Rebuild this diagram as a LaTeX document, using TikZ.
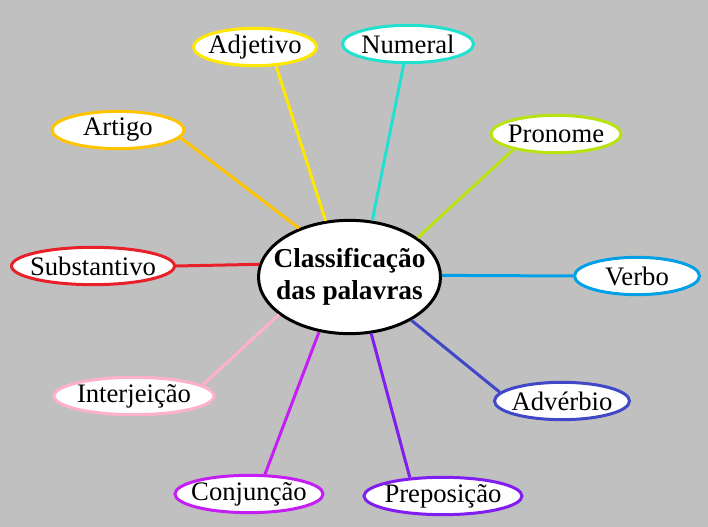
\documentclass[tikz,border=0pt]{standalone}
\usepackage{fontspec}
\setmainfont{Liberation Serif}
\usetikzlibrary{shapes.geometric}
\definecolor{bg}{RGB}{192,192,192}
\definecolor{cadj}{RGB}{255,232,0}
\definecolor{cnum}{RGB}{34,224,208}
\definecolor{cpro}{RGB}{184,226,16}
\definecolor{cart}{RGB}{255,196,0}
\definecolor{csub}{RGB}{232,32,42}
\definecolor{cver}{RGB}{0,160,230}
\definecolor{cint}{RGB}{255,176,204}
\definecolor{cadv}{RGB}{64,72,200}
\definecolor{ccon}{RGB}{196,30,245}
\definecolor{cpre}{RGB}{128,30,240}
\newcommand{\nw}[1]{\makebox[0pt]{#1}}
\begin{document}
\begin{tikzpicture}[x=0.75pt,y=-0.75pt,
  leaf/.style={ellipse,draw=#1,fill=white,line width=2.25pt,inner sep=0pt,
    minimum height=28pt,font=\fontsize{20}{24}\selectfont},
  hub/.style={ellipse,draw=black,fill=white,line width=2.25pt,inner sep=0pt,
    minimum width=136.5pt,minimum height=85pt,
    font=\fontsize{20.5}{24}\selectfont\bfseries},
  link/.style={draw=#1,line width=2.25pt}]
\fill[bg] (0,0) rectangle (708,527);
\useasboundingbox (0,0) rectangle (708,527);
\node[hub] (c) at (349.5,277) {\nw{\setlength{\tabcolsep}{0pt}\begin{tabular}{c}Classificação\\das palavras\end{tabular}}};
\node[leaf=cadj,minimum width=92.25pt] (adj) at (255,47) {\nw{Adjetivo}};
\node[leaf=cnum,minimum width=98.25pt] (num) at (408,44) {\nw{Numeral}};
\node[leaf=cpro,minimum width=97.5pt] (pro) at (556,134) {\nw{Pronome}};
\node[leaf=cart,minimum width=99pt] (art) at (118,130) {\nw{Artigo}};
\node[leaf=csub,minimum width=122.25pt] (sub) at (93,266) {\nw{Substantivo}};
\node[leaf=cver,minimum width=93.75pt] (ver) at (637,276) {\nw{Verbo}};
\node[leaf=cint,minimum width=120pt] (int) at (134,396) {\nw{Interjeição}};
\node[leaf=cadv,minimum width=101.25pt] (adv) at (562,401) {\nw{Advérbio}};
\node[leaf=ccon,minimum width=111pt] (con) at (249,494) {\nw{Conjunção}};
\node[leaf=cpre,minimum width=118.5pt] (pre) at (443,496) {\nw{Preposição}};
\draw[link=cadj] (adj.-42) -- (c.113);
\draw[link=cnum] (num.258) -- (c.68);
\draw[link=cpro] (pro.200) -- (c.30);
\draw[link=cart] (art.-7) -- (c.136);
\draw[link=csub] (sub.0) -- (c.172);
\draw[link=cver] (ver.180) -- (c.1);
\draw[link=cint] (int.9) -- (c.208);
\draw[link=cadv] (adv.172) -- (c.-35);
\draw[link=ccon] (con.51) -- (c.241);
\draw[link=cpre] (pre.151) -- (c.291);
\end{tikzpicture}
\end{document}
